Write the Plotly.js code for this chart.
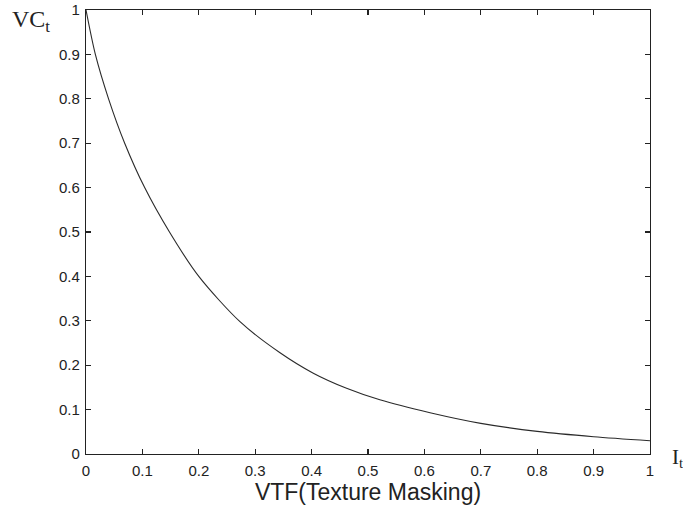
<!DOCTYPE html>
<html>
<head>
<meta charset="utf-8">
<script src="https://cdn.plot.ly/plotly-3.0.1.min.js"></script>
<style>html,body{margin:0;padding:0;background:#fff;}#chart{width:683px;height:514px;}</style>
</head>
<body>
<div id="chart"></div>
<script>
// Values
var intensity = [0, 0.0166, 0.04, 0.0686, 0.104, 0.148, 0.2, 0.273, 0.344, 0.403, 0.462, 0.521, 0.61, 0.7, 0.8, 0.9, 1.0];
var visibility = [1.0, 0.9, 0.8, 0.7, 0.6, 0.5, 0.4, 0.298, 0.228, 0.182, 0.148, 0.122, 0.093, 0.069, 0.051, 0.039, 0.03];
var xTicks = [0, 0.1, 0.2, 0.3, 0.4, 0.5, 0.6, 0.7, 0.8, 0.9, 1];
var xTickText = ['0', '0.1', '0.2', '0.3', '0.4', '0.5', '0.6', '0.7', '0.8', '0.9', '1'];
var yTicks = [0, 0.1, 0.2, 0.3, 0.4, 0.5, 0.6, 0.7, 0.8, 0.9, 1];
var yTickText = ['0', '0.1', '0.2', '0.3', '0.4', '0.5', '0.6', '0.7', '0.8', '0.9', '1'];
var xTitle = 'VTF(Texture Masking)';
var yLabel = 'VC<sub>t</sub>';
var xLabel = 'I<sub>t</sub>';

var trace = {
  x: intensity, y: visibility, type: 'scatter', mode: 'lines',
  line: {color: '#2a2a2a', width: 1.1, shape: 'spline', smoothing: 0.8},
  hoverinfo: 'none'
};

var axisCommon = {
  showgrid: false, zeroline: false, showline: true, mirror: 'ticks',
  linecolor: '#222', linewidth: 1.2, ticks: 'inside', ticklen: 5, tickwidth: 1.2,
  tickcolor: '#222', tickfont: {family: 'Liberation Sans, Arial, sans-serif', size: 15, color: '#222'}
};

var layout = {
  width: 683, height: 514,
  margin: {l: 86, r: 33, t: 10, b: 60},
  paper_bgcolor: '#fff', plot_bgcolor: '#fff',
  showlegend: false,
  xaxis: Object.assign({}, axisCommon, {
    range: [0, 1], tickvals: xTicks, ticktext: xTickText, ticklabelstandoff: 3,
    title: {text: xTitle, standoff: 2, font: {family: 'Liberation Sans, Arial, sans-serif', size: 23, color: '#222'}}
  }),
  yaxis: Object.assign({}, axisCommon, {
    range: [0, 1], tickvals: yTicks, ticktext: yTickText, ticklabelstandoff: 2
  }),
  annotations: [
    {text: yLabel, xref: 'paper', yref: 'paper', x: -0.135, y: 0.975, xanchor: 'left', yanchor: 'middle', showarrow: false,
     font: {family: 'Liberation Serif, Times New Roman, serif', size: 24, color: '#222'}},
    {text: xLabel, xref: 'paper', yref: 'paper', x: 1.035, y: -0.01, xanchor: 'left', yanchor: 'middle', showarrow: false,
     font: {family: 'Liberation Serif, Times New Roman, serif', size: 21, color: '#222'}}
  ]
};

Plotly.newPlot('chart', [trace], layout, {staticPlot: true, displayModeBar: false});
</script>
</body>
</html>
